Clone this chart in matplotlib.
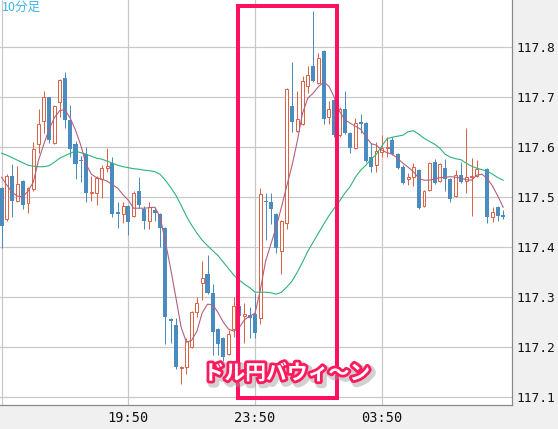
import numpy as np
import matplotlib
matplotlib.use('Agg')
import matplotlib.pyplot as plt
import matplotlib.patheffects as pe
from matplotlib.patches import Rectangle

nan = np.nan
opens = [117.518,117.455,117.541,117.492,117.531,117.487,117.515,117.605,117.652,117.699,
         117.607,117.689,117.737,117.653,117.605,117.572,117.586,117.508,117.507,117.535,
         117.558,117.567,117.469,117.465,117.482,117.462,117.511,117.475,117.452,117.473,
         117.466,117.437,117.256,117.243,117.158,117.160,117.200,117.270,117.328,117.345,
         117.307,117.235,117.217,117.185,117.235,117.282,117.261,117.263,117.265,117.257,
         117.492,117.490,117.465,117.392,117.447,117.681,117.632,117.645,117.721,117.761,
         117.728,117.791,117.660,117.693,117.624,117.676,117.627,117.598,117.649,117.647,
         117.579,117.563,117.590,117.598,117.613,117.585,117.559,117.535,117.540,117.553,
         117.482,117.513,117.569,117.531,117.558,117.535,117.502,117.543,117.532,117.539,
         117.542,nan,117.555,117.459,117.479,117.463]
highs = [117.520,117.545,117.565,117.561,117.533,117.519,117.609,117.675,117.711,117.700,
         117.683,117.735,117.749,117.683,117.611,117.582,117.599,117.541,117.541,117.563,
         117.597,117.579,117.490,117.489,117.484,117.512,117.540,117.481,117.489,117.480,
         117.468,117.440,117.257,117.258,117.162,117.217,117.272,117.299,117.372,117.383,
         117.325,117.237,117.220,117.233,117.300,117.290,117.287,117.280,117.308,117.517,
         117.508,117.508,117.467,117.453,117.717,117.769,117.711,117.741,117.761,117.871,
         117.787,117.793,117.691,117.695,117.680,117.711,117.629,117.657,117.665,117.650,
         117.607,117.609,117.623,117.620,117.620,117.587,117.563,117.548,117.568,117.555,
         117.513,117.569,117.575,117.567,117.575,117.537,117.553,117.570,117.638,117.577,
         117.573,nan,117.557,117.479,117.482,117.473]
lows = [117.397,117.452,117.460,117.490,117.476,117.468,117.512,117.588,117.628,117.608,
        117.605,117.660,117.638,117.579,117.535,117.530,117.490,117.492,117.484,117.497,
        117.550,117.460,117.438,117.448,117.423,117.460,117.477,117.435,117.435,117.452,
        117.400,117.205,117.207,117.155,117.125,117.145,117.198,117.260,117.293,117.305,
        117.183,117.183,117.172,117.183,117.220,117.250,117.207,117.217,117.217,117.245,
        117.413,117.445,117.387,117.346,117.435,117.630,117.630,117.643,117.707,117.730,
        117.726,117.645,117.645,117.620,117.620,117.625,117.588,117.596,117.627,117.570,
        117.550,117.550,117.579,117.579,117.583,117.555,117.526,117.523,117.522,117.475,
        117.480,117.511,117.525,117.529,117.512,117.490,117.500,117.527,117.507,117.461,
        117.540,nan,117.448,117.450,117.452,117.456]
closes = [117.442,117.541,117.492,117.525,117.484,117.517,117.595,117.645,117.699,117.613,
          117.681,117.733,117.654,117.596,117.566,117.571,117.508,117.509,117.537,117.557,
          117.561,117.466,117.465,117.481,117.450,117.507,117.483,117.452,117.480,117.467,
          117.437,117.259,117.252,117.159,117.160,117.211,117.269,117.288,117.337,117.307,
          117.230,117.205,117.180,117.225,117.282,117.262,117.265,117.257,117.227,117.505,
          117.490,117.475,117.398,117.451,117.715,117.650,117.655,117.731,117.743,117.732,
          117.777,117.656,117.675,117.624,117.675,117.627,117.598,117.648,117.646,117.572,
          117.560,117.592,117.597,117.599,117.585,117.557,117.528,117.539,117.559,117.478,
          117.511,117.567,117.527,117.565,117.535,117.495,117.543,117.529,117.540,117.541,
          117.555,nan,117.459,117.469,117.461,117.459]
ma_short = [117.539,117.523,117.509,117.501,117.500,117.511,117.529,117.573,117.605,117.635,
            117.658,117.672,117.674,117.657,117.633,117.603,117.565,117.545,117.538,117.535,
            117.531,117.524,117.517,117.504,117.493,117.477,117.477,117.477,117.478,117.479,
            117.461,117.411,117.357,117.299,117.239,117.209,117.213,117.231,117.268,117.285,
            117.284,117.268,117.249,117.235,117.231,117.238,117.254,117.261,117.267,117.313,
            117.371,117.405,117.439,117.479,117.521,117.562,117.611,117.667,117.697,117.707,
            117.720,117.729,117.721,117.699,117.671,117.654,117.647,117.641,117.635,117.620,
            117.606,117.603,117.593,117.588,117.585,117.577,117.567,117.559,117.550,117.537,
            117.533,117.533,117.535,117.538,117.539,117.540,117.539,117.537,117.534,117.533,
            117.543,117.545,117.536,117.521,117.501,117.479]
ma_long = [117.587,117.583,117.578,117.573,117.568,117.563,117.561,117.560,117.560,117.562,
           117.569,117.577,117.582,117.587,117.591,117.588,117.585,117.581,117.577,117.575,
           117.571,117.567,117.563,117.560,117.558,117.556,117.555,117.553,117.552,117.550,
           117.545,117.533,117.519,117.503,117.483,117.461,117.443,117.427,117.413,117.402,
           117.392,117.382,117.369,117.356,117.343,117.333,117.325,117.318,117.309,117.309,
           117.309,117.308,117.305,117.309,117.319,117.331,117.349,117.369,117.391,117.409,
           117.427,117.445,117.462,117.477,117.491,117.507,117.520,117.539,117.553,117.563,
           117.575,117.585,117.601,117.616,117.619,117.621,117.623,117.630,117.632,117.625,
           117.617,117.611,117.605,117.597,117.585,117.579,117.576,117.574,117.567,117.561,
           117.557,117.554,117.551,117.545,117.538,117.533]
tick_pos = [0, 24, 48, 72]
tick_labels = ['', '19:50', '23:50', '03:50']
y_ticks = [117.1, 117.2, 117.3, 117.4, 117.5, 117.6, 117.7, 117.8]

UP = '#dc6444'
DOWN = '#4b8cc0'
PX = 1 / 100 * 72  # one pixel in points

fig = plt.figure(figsize=(5.58, 4.29), dpi=100, facecolor='#f0f0f0')
ax = fig.add_axes([0, 24 / 429, 512 / 558, 405 / 429])
ax.set_facecolor('white')
ax.set_xlim(-0.3, 96.67)
ax.set_ylim(117.0834, 117.8934)

o = np.array(opens); h = np.array(highs); l = np.array(lows); c = np.array(closes)
x = np.arange(len(o))
valid = ~np.isnan(o)
up = valid & (c >= o)
dn = valid & (c < o)

top = np.maximum(o, c); bot = np.minimum(o, c)
ax.vlines(x[up], top[up], h[up], color=UP, lw=PX, zorder=3)
ax.vlines(x[up], l[up], bot[up], color=UP, lw=PX, zorder=3)
ax.vlines(x[dn], l[dn], h[dn], color=DOWN, lw=PX, zorder=3)
ax.bar(x[up], np.maximum(top[up] - bot[up], 0.0008), bottom=bot[up], width=0.56,
       facecolor='white', edgecolor=UP, linewidth=PX, zorder=4)
ax.bar(x[dn], np.maximum(top[dn] - bot[dn], 0.002), bottom=bot[dn], width=0.76,
       facecolor=DOWN, edgecolor='none', linewidth=0, zorder=4)

ax.plot(x, ma_long, color='#2db47a', lw=0.8, zorder=5)
ax.plot(x, ma_short, color='#b4607f', lw=0.8, zorder=5)

ax.set_yticks(y_ticks)
ax.set_yticklabels([f'{v:.1f}' for v in y_ticks])
ax.set_xticks(tick_pos)
ax.set_xticklabels(tick_labels)
ax.grid(True, color='#c8c8c8', lw=1.2 * PX, zorder=0)
ax.set_axisbelow(True)
ax.yaxis.tick_right()
ax.tick_params(axis='y', length=0, pad=3, labelsize=9.3, labelcolor='#111111')
ax.tick_params(axis='x', length=0, pad=4, labelsize=9.8, labelcolor='#111111')
for lab in ax.get_yticklabels() + ax.get_xticklabels():
    lab.set_fontfamily('DejaVu Sans Mono')
for s in ['top', 'left']:
    ax.spines[s].set_visible(False)
for s in ['right', 'bottom']:
    ax.spines[s].set_color('#888888')
    ax.spines[s].set_linewidth(1.2 * PX)

fig.text(2 / 558, 1 - 0.5 / 429, '10分足', color='#3ab4e8', fontsize=9,
         family=['Noto Sans CJK JP', 'DejaVu Sans'], ha='left', va='top')

rect = Rectangle((238 / 512, 1 - 398 / 405), (336.7 - 238) / 512, (398 - 6) / 405,
                 transform=ax.transAxes, fill=False, edgecolor='#ff1060',
                 lw=4 * PX, zorder=8, clip_on=False)
ax.add_patch(rect)

t = ax.text(287 / 512, 1 - 373 / 405, 'ドル円バウィ～ン', transform=ax.transAxes,
            ha='center', va='center', fontsize=15, fontweight='bold', color='white',
            family=['Noto Sans CJK JP', 'DejaVu Sans'], zorder=10)
t.set_path_effects([pe.Stroke(linewidth=6, foreground='#999999', alpha=0.45, offset=(2, -2)),
                    pe.Stroke(linewidth=4, foreground='#ff1a5e'),
                    pe.Normal()])

fig.savefig('out.png', dpi=100, facecolor=fig.get_facecolor())
